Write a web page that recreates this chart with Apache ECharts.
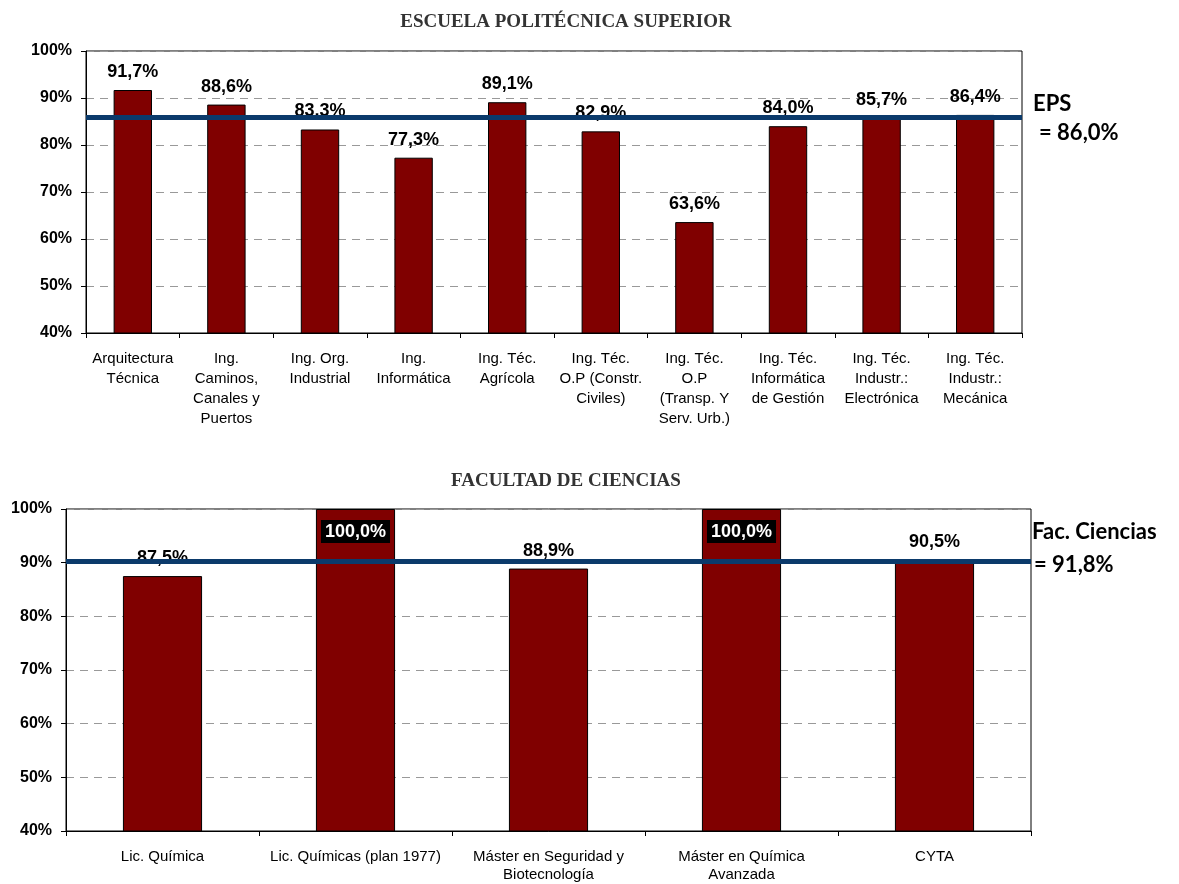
<!DOCTYPE html>
<html>
<head>
<meta charset="utf-8">
<script src="https://cdn.jsdelivr.net/npm/echarts@6/dist/echarts.min.js"></script>
<style>
  html, body { margin: 0; padding: 0; background: #fff; }
  #chart { width: 1179px; height: 884px; }
</style>
</head>
<body>
<div id="chart"></div>
<script>
// datos EPS
var epsCategorias = [
  "Arquitectura\nTécnica", "Ing.\nCaminos,\nCanales y\nPuertos", "Ing. Org.\nIndustrial",
  "Ing.\nInformática", "Ing. Téc.\nAgrícola", "Ing. Téc.\nO.P (Constr.\nCiviles)",
  "Ing. Téc.\nO.P\n(Transp. Y\nServ. Urb.)", "Ing. Téc.\nInformática\nde Gestión",
  "Ing. Téc.\nIndustr.:\nElectrónica", "Ing. Téc.\nIndustr.:\nMecánica"
];
var epsValores = [91.7, 88.6, 83.3, 77.3, 89.1, 82.9, 63.6, 84.0, 85.7, 86.4];
var epsMedia = 86.0;

// datos Facultad de Ciencias
var cienciasCategorias = [
  "Lic. Química", "Lic. Químicas (plan 1977)", "Máster en Seguridad y\nBiotecnología",
  "Máster en Química\nAvanzada", "CYTA"
];
var cienciasValores = [87.5, 100.0, 88.9, 100.0, 90.5];
var cienciasLinea = 90.3;   // posición de la línea en el gráfico
var cienciasMediaTexto = "= 91,8%";

var yTicks = [40, 50, 60, 70, 80, 90, 100];

function pct(v) {
  return v.toFixed(1).replace(".", ",") + "%";
}

// las barras al 100% llevan la etiqueta dentro, blanca sobre negro
function barData(valores) {
  return valores.map(function (v) {
    if (v >= 100) {
      return {
        value: v,
        label: {
          position: "insideTop",
          distance: 11,
          color: "#fff",
          backgroundColor: "#000",
          padding: [3, 4, 2, 4]
        }
      };
    }
    return v;
  });
}

function yAxisCfg(idx) {
  return {
    type: "value",
    gridIndex: idx,
    min: yTicks[0],
    max: yTicks[yTicks.length - 1],
    interval: 10,
    axisLine: { show: true, lineStyle: { color: "#000", width: 1 } },
    axisTick: { show: true, length: 5, lineStyle: { color: "#000" } },
    axisLabel: {
      formatter: "{value}%",
      color: "#000",
      fontFamily: "Liberation Sans, Arial",
      fontWeight: "bold",
      fontSize: 16,
      margin: 14
    },
    splitLine: { show: true, lineStyle: { color: "#999", type: [8, 6], width: 1 } }
  };
}

function xAxisCfg(idx, cats, margin, lh) {
  return {
    type: "category",
    gridIndex: idx,
    data: cats,
    axisLine: { show: true, lineStyle: { color: "#000", width: 1 } },
    axisTick: { show: true, length: 5, interval: 0, lineStyle: { color: "#000" } },
    axisLabel: {
      interval: 0,
      color: "#000",
      fontFamily: "Liberation Sans, Arial",
      fontSize: 15,
      lineHeight: lh,
      margin: margin
    }
  };
}

function barSerie(idx, valores, linea) {
  return {
    type: "bar",
    xAxisIndex: idx,
    yAxisIndex: idx,
    data: barData(valores),
    barWidth: "41%",
    itemStyle: { color: "#800000", borderColor: "#000", borderWidth: 1 },
    label: {
      show: true,
      position: "top",
      distance: 9,
      formatter: function (p) { return pct(p.value); },
      color: "#000",
      fontFamily: "Liberation Sans, Arial",
      fontWeight: "bold",
      fontSize: 18
    },
    markLine: {
      silent: true,
      symbol: "none",
      z: 10,
      label: { show: false },
      lineStyle: { color: "#0b3a6b", width: 5, type: "solid" },
      data: [{ yAxis: linea }]
    }
  };
}

var tituloStyle = {
  fontFamily: "Liberation Serif, DejaVu Serif",
  fontWeight: "bold",
  fontSize: 19,
  color: "#333"
};
var mediaStyle = {
  fontFamily: "Lato, Open Sans",
  fontWeight: "bold",
  fontSize: 22,
  color: "#000"
};

var option = {
  animation: false,
  backgroundColor: "#fff",
  title: [
    { text: "ESCUELA POLITÉCNICA SUPERIOR", left: 561, top: 8, textAlign: "center", textStyle: tituloStyle },
    { text: "FACULTAD DE CIENCIAS", left: 561, top: 467, textAlign: "center", textStyle: tituloStyle }
  ],
  grid: [
    { left: 86, top: 51, width: 936, height: 282, outerBoundsMode: "none", show: true, borderColor: "#000", borderWidth: 1, backgroundColor: "#fff" },
    { left: 66, top: 509, width: 965, height: 322, outerBoundsMode: "none", show: true, borderColor: "#000", borderWidth: 1, backgroundColor: "#fff" }
  ],
  xAxis: [xAxisCfg(0, epsCategorias, 16, 20), xAxisCfg(1, cienciasCategorias, 17, 18)],
  yAxis: [yAxisCfg(0), yAxisCfg(1)],
  series: [barSerie(0, epsValores, epsMedia), barSerie(1, cienciasValores, cienciasLinea)],
  graphic: [
    { type: "text", left: 1033, top: 93, style: Object.assign({ text: "EPS" }, mediaStyle) },
    { type: "text", left: 1039, top: 122, style: Object.assign({ text: "= " + pct(epsMedia) }, mediaStyle) },
    { type: "text", left: 1032, top: 521, style: Object.assign({ text: "Fac. Ciencias" }, mediaStyle) },
    { type: "text", left: 1034, top: 554, style: Object.assign({ text: cienciasMediaTexto }, mediaStyle) }
  ]
};

var chartObj = echarts.init(document.getElementById("chart"));
chartObj.setOption(option);
</script>
</body>
</html>
